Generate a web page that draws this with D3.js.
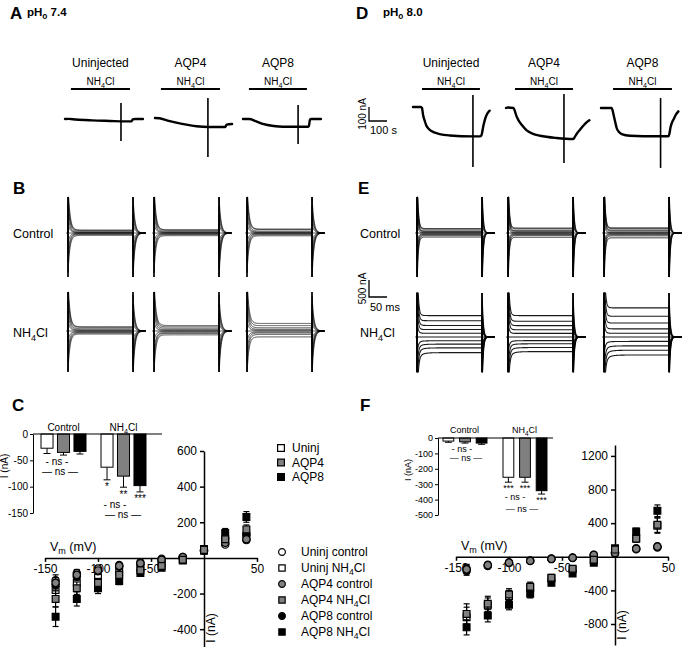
<!DOCTYPE html>
<html><head><meta charset="utf-8">
<script src="https://cdn.jsdelivr.net/npm/d3@7"></script>
<style>
body{margin:0;background:#fff;}
svg{font-family:"Liberation Sans",Arial,Helvetica,sans-serif;}
</style></head><body>
<svg id="fig" width="683" height="647"></svg>
<script>
// ================= DATA =================
const groupNames = ["Uninjected", "AQP4", "AQP8"];
const barSeries = ["Uninj", "AQP4", "AQP8"];
const barGroups = ["Control", "NH4Cl"];
const steps = [-140, -120, -100, -80, -60, -40, -20, 0, 20, 40];   // mV
const holdingPotential = -60;
const pulseDuration = 180;  // ms

// Panel A (pH 7.4) slow traces: [time s, current nA]
const traceA_uninj = [[0,0],[20,1],[60,-4],[150,-10],[250,-14],[330,-17],[370,-17],[376,-3],[390,0],[433,0]];
const traceA_aqp4  = [[0,7],[25,5],[70,-12],[150,-35],[230,-52],[300,-57],[390,-57],[398,-40],[428,-36]];
const traceA_aqp8  = [[0,0],[35,0],[70,-15],[110,-35],[170,-50],[222,-55],[360,-55],[366,-50],[372,-5],[380,0],[433,0]];
const spikeA = [[311,114,-157],[294,150,-271],[306,100,-179]];          // time, top, bottom
const nh4A   = [[33,361],[33,361],[33,355]];                            // NH4Cl application (s)

// Panel D (pH 8.0) slow traces
const traceD_uninj = [[0,7],[43,7],[50,0],[56,-50],[66,-95],[74,-125],[88,-150],[102,-165],[148,-186],[204,-196],[332,-203],[372,-203],[380,-195],[385,-170],[389,-140],[398,-90],[407,-55],[418,-30],[426,-19]];
const traceD_aqp4  = [[0,0],[10,4],[41,0],[59,-60],[73,-95],[87,-119],[115,-160],[150,-185],[189,-198],[281,-214],[374,-221],[383,-205],[395,-180],[411,-155],[439,-113],[463,-88]];
const traceD_aqp8  = [[0,0],[59,0],[65,-20],[72,-60],[80,-105],[87,-143],[100,-172],[115,-186],[161,-198],[309,-202],[374,-202],[380,-185],[386,-140],[394,-105],[402,-84],[415,-50],[430,-24]];
const spikeD = [[333,93,-421],[322,100,-393],[331,71,-428]];
const nh4D   = [[50,372],[50,372],[67,394]];

// Panel C IV (pH 7.4), nA, mean and SEM
const c_uninjCtrl = [-125,-85,-60,-40,-25,-5,0,40,75,100];
const c_uninjNH4  = [-180,-140,-110,-80,-55,-30,-5,40,95,125];
const c_aqp4Ctrl  = [-140,-95,-70,-45,-30,-10,5,40,85,105];
const c_aqp4NH4   = [-230,-170,-140,-95,-70,-45,-10,45,105,160];
const c_aqp8Ctrl  = [-150,-105,-75,-50,-35,-15,5,45,110,130];
const c_aqp8NH4   = [-330,-230,-170,-130,-85,-55,-15,50,140,230];
const c_errCtrl   = [30,20,15,10,8,5,3,5,10,15];
const c_errNH4    = [45,35,25,18,12,8,5,8,18,25];
const c_errAqp8NH4= [55,40,30,20,15,10,5,10,25,30];
// Panel C inset bars
const c_barCtrl = [-27,-35,-33], c_barCtrlErr = [10,5,5];
const c_barNH4  = [-63,-80,-98], c_barNH4Err  = [24,21,12];

// Panel F IV (pH 8.0)
const f_uninjCtrl = [-140,-95,-65,-45,-22,-10,20,40,90,110];
const f_uninjNH4  = [-720,-580,-470,-370,-260,-150,-40,80,220,370];
const f_aqp4Ctrl  = [-150,-100,-70,-48,-25,-12,22,45,95,120];
const f_aqp4NH4   = [-680,-560,-450,-357,-250,-143,-36,85,214,380];
const f_aqp8Ctrl  = [-170,-110,-75,-50,-28,-15,25,55,100,125];
const f_aqp8NH4   = [-840,-700,-571,-440,-310,-200,-70,100,300,547];
const f_errCtrl   = [50,30,20,12,8,5,5,10,15,20];
const f_errNH4    = [120,90,70,55,40,25,15,20,40,90];
const f_errAqp8NH4= [90,75,60,50,30,25,10,20,40,70];
// Panel F inset bars
const f_barCtrl = [-20,-25,-33], f_barCtrlErr = [8,8,8];
const f_barNH4  = [-255,-255,-342], f_barNH4Err = [32,32,22];

// ================= HELPERS =================
const svg = d3.select("#fig");
svg.append("rect").attr("width",683).attr("height",647).attr("fill","#fff");

function rich(parent, x, y, parts, size, anchor, weight) {
  const t = parent.append("text").attr("x", x).attr("y", y)
    .attr("font-size", size).attr("text-anchor", anchor || "start")
    .attr("font-weight", weight || "normal").attr("fill", "#000");
  let shift = 0;
  parts.forEach(p => {
    const target = p.sub ? size * 0.28 : 0;
    const ts = t.append("tspan").text(p.t).attr("dy", target - shift);
    if (p.sub) ts.attr("font-size", size * 0.72);
    shift = target;
  });
  return t;
}
const NH4 = [{t:"NH"},{t:"4",sub:true},{t:"Cl"}];
function plain(parent, x, y, s, size, anchor, weight) {
  return parent.append("text").attr("x", x).attr("y", y).attr("font-size", size)
    .attr("text-anchor", anchor || "start").attr("font-weight", weight || "normal").attr("fill","#000").text(s);
}

// ================= PANEL LETTERS =================
plain(svg, 10, 19, "A", 17, "start", "bold");
rich(svg, 27, 16, [{t:"pH"},{t:"o",sub:true},{t:" 7.4"}], 11.5, "start", "bold");
plain(svg, 356, 19, "D", 17, "start", "bold");
rich(svg, 383, 16, [{t:"pH"},{t:"o",sub:true},{t:" 8.0"}], 11.5, "start", "bold");
plain(svg, 13, 194, "B", 17, "start", "bold");
plain(svg, 358, 194, "E", 17, "start", "bold");
plain(svg, 12, 411, "C", 17, "start", "bold");
plain(svg, 360, 411, "F", 17, "start", "bold");

// ================= SLOW TRACES (A, D) =================
const pxPerSec = 0.18, pxPerNA = 0.14;
function drawSlow(x0s, baseY, traces, spikes, nh4) {
  traces.forEach((tr, i) => {
    const x0 = x0s[i];
    const t = d3.scaleLinear().domain([0, 100]).range([x0, x0 + 100 * pxPerSec]);
    const y = d3.scaleLinear().domain([0, -100]).range([baseY, baseY + 100 * pxPerNA]);
    const bar = nh4[i];
    const cx = (t(bar[0]) + t(bar[1])) / 2;
    svg.append("line").attr("x1", t(bar[0])).attr("x2", t(bar[1])).attr("y1", 89).attr("y2", 89)
      .attr("stroke", "#000").attr("stroke-width", 2);
    rich(svg, cx, 85, NH4, 10, "middle");
    plain(svg, cx, 67, groupNames[i], 12, "middle");
    const sp = spikes[i];
    svg.append("line").attr("x1", t(sp[0])).attr("x2", t(sp[0])).attr("y1", y(sp[1])).attr("y2", y(sp[2]))
      .attr("stroke", "#000").attr("stroke-width", 1.6);
    const line = d3.line().x(d => t(d[0])).y(d => y(d[1])).curve(d3.curveMonotoneX);
    svg.append("path").attr("d", line(tr)).attr("fill", "none").attr("stroke", "#000")
      .attr("stroke-width", 2.4).attr("stroke-linejoin", "round").attr("stroke-linecap","round");
  });
}
drawSlow([65, 155, 243], 119, [traceA_uninj, traceA_aqp4, traceA_aqp8], spikeA, nh4A);
drawSlow([413, 506, 601], 108, [traceD_uninj, traceD_aqp4, traceD_aqp8], spikeD, nh4D);

// scale bar D: 100 nA / 100 s
(function(){
  const x0 = 369, y0 = 121;
  const t = d3.scaleLinear().domain([0,100]).range([x0, x0 + 100*pxPerSec]);
  const y = d3.scaleLinear().domain([0,100]).range([y0, y0 - 100*pxPerNA]);
  svg.append("path").attr("d", `M${t(0)},${y(100)}V${y(0)}H${t(100)}`).attr("fill","none").attr("stroke","#000").attr("stroke-width",1.3);
  const g = svg.append("g").attr("transform", `translate(${x0-3},${(y(0)+y(100))/2}) rotate(-90)`);
  plain(g, 0, 0, "100 nA", 10, "middle");
  plain(svg, x0 + 1, 134, "100 s", 11, "start");
})();

// ================= CURRENT FAMILIES (B, E) =================
const msPx = 65 / pulseDuration;
const holdIdx = steps.indexOf(holdingPotential);
const transientGain = 20; // nA per mV at onset
function drawFamilies(x0s, base, top, bottom, kPx, tau, sets, lineW, relax) {
  sets.forEach((levels, f) => {
    const x = d3.scaleLinear().domain([0, pulseDuration]).range([x0s[f], x0s[f] + pulseDuration * msPx]);
    const y = d3.scaleLinear().domain([-(bottom - base) / kPx, (base - top) / kPx]).range([bottom, top]).clamp(true);
    const tS = d3.range(-3, 215.01, 0.4);
    const g = svg.append("g");
    levels.forEach((lv, i) => {
      const L = lv - levels[holdIdx];
      const dv = steps[i] - holdingPotential;
      const pts = tS.map(t => {
        let v;
        if (t < 0) v = 0;
        else if (t < pulseDuration) v = L + transientGain * dv * Math.exp(-t / tau) + (relax && L < 0 ? L * 0.35 * Math.exp(-t / 12) : 0);
        else { const u = t - pulseDuration; v = -transientGain * dv * Math.exp(-u / tau) + L * 0.25 * Math.exp(-u / 4); }
        return [t, v];
      });
      g.append("path").attr("d", d3.line().x(d => x(d[0])).y(d => y(d[1]))(pts))
        .attr("fill", "none").attr("stroke", "#000").attr("stroke-width", lineW).attr("stroke-opacity", 0.9);
    });
    [0, pulseDuration].forEach(ts => {
      g.append("line").attr("x1", x(ts)).attr("x2", x(ts)).attr("y1", y(1e6)).attr("y2", y(-1e6))
        .attr("stroke", "#000").attr("stroke-width", 1.7);
    });
  });
}
const bK = 12 / 500, eK = 17 / 500;
drawFamilies([68,154,247], 233, 197, 277, bK, 5, [c_uninjCtrl, c_aqp4Ctrl, c_aqp8Ctrl], 0.8, false);
drawFamilies([68,154,247], 331, 292, 372, bK, 5, [c_uninjNH4, c_aqp4NH4, c_aqp8NH4], 0.8, false);
drawFamilies([417,508,604], 233, 197, 277, eK, 3, [f_uninjCtrl, f_aqp4Ctrl, f_aqp8Ctrl], 1.0, false);
drawFamilies([417,508,604], 337, 293, 372, eK, 3, [f_uninjNH4, f_aqp4NH4, f_aqp8NH4], 1.1, true);
plain(svg, 13, 238, "Control", 12.5);
rich(svg, 13, 337, NH4, 12.5);
plain(svg, 360, 238, "Control", 12.5);
rich(svg, 360, 337, NH4, 12.5);
// scale bar E: 500 nA / 50 ms
(function(){
  const x0 = 369, y0 = 297;
  const t = d3.scaleLinear().domain([0,50]).range([x0, x0 + 50*msPx]);
  const y = d3.scaleLinear().domain([0,500]).range([y0, y0 - 500*eK]);
  svg.append("path").attr("d", `M${t(0)},${y(500)}V${y(0)}H${t(50)}`).attr("fill","none").attr("stroke","#000").attr("stroke-width",1.3);
  const g = svg.append("g").attr("transform", `translate(${x0-3},${(y(0)+y(500))/2}) rotate(-90)`);
  plain(g, 0, 0, "500 nA", 10, "middle");
  plain(svg, x0 + 1, 311, "50 ms", 11, "start");
})();

// ================= IV PLOTS (C, F) =================
const greyFill = "#808080";
function drawIV(cfg) {
  const x = d3.scaleLinear().domain([-150, 50]).range(cfg.xRange);
  const y = d3.scaleLinear().domain(cfg.yDomain).range(cfg.yRange);
  const g = svg.append("g");
  const xa = g.append("g").attr("transform", `translate(0,${y(0)})`)
    .call(d3.axisBottom(x).tickValues([-150,-100,-50,50]).tickSize(4).tickSizeOuter(0).tickFormat(d3.format("d")));
  const ya = g.append("g").attr("transform", `translate(${x(0)},0)`)
    .call(d3.axisLeft(y).tickValues(cfg.yTicks).tickSize(4).tickSizeOuter(0).tickFormat(d3.format("d")));
  [xa, ya].forEach(a => {
    a.selectAll("path,line").attr("stroke", "#000").attr("stroke-width", 1.5);
    a.selectAll("text").attr("font-size", 12).attr("font-family", "Liberation Sans, Arial, sans-serif").attr("fill","#000");
  });
  xa.selectAll("text").text(d => d < 0 ? "-" + Math.abs(d) : d);
  ya.selectAll("text").text(d => d < 0 ? "-" + Math.abs(d) : d);
  rich(g, cfg.xRange[0] + 5, y(0) - 7, [{t:"V"},{t:"m",sub:true},{t:" (mV)"}], 12.5);
  const yl = g.append("g").attr("transform", `translate(${x(0) + 11},${cfg.yLabelY}) rotate(-90)`);
  plain(yl, 0, 0, "I (nA)", 12, "middle");
  cfg.series.forEach(s => {
    const sg = g.append("g");
    steps.forEach((v, i) => {
      const cx = x(v), m = s.mean[i], e = s.err[i];
      sg.append("line").attr("x1", cx).attr("x2", cx).attr("y1", y(m - e)).attr("y2", y(m + e)).attr("stroke","#000").attr("stroke-width",1.2);
      [m - e, m + e].forEach(vv => sg.append("line").attr("x1", cx - 3).attr("x2", cx + 3).attr("y1", y(vv)).attr("y2", y(vv)).attr("stroke","#000").attr("stroke-width",1.2));
    });
    sg.selectAll("path.m").data(s.mean).join("path").attr("class","m")
      .attr("transform", (d, i) => `translate(${x(steps[i])},${y(d)})`)
      .attr("d", d3.symbol().type(s.shape === "circle" ? d3.symbolCircle : d3.symbolSquare).size(s.shape === "circle" ? 42 : 46))
      .attr("fill", s.fill).attr("stroke", "#000").attr("stroke-width", 1.2);
  });
}
function drawInset(cfg) {
  const y = d3.scaleLinear().domain(cfg.yDomain).range(cfg.yRange);
  const gx = d3.scaleBand().domain(barGroups).range(cfg.groupRange);
  const sx = d3.scaleBand().domain(barSeries).range(cfg.innerRange).paddingInner(cfg.pad);
  const g = svg.append("g");
  const ya = g.append("g").attr("transform", `translate(${cfg.axisX},0)`)
    .call(d3.axisLeft(y).tickValues(cfg.yTicks).tickSize(3).tickSizeOuter(0).tickPadding(2));
  ya.selectAll("path,line").attr("stroke","#000").attr("stroke-width",1);
  ya.selectAll("text").attr("font-size", cfg.font).attr("font-family","Liberation Sans, Arial, sans-serif").attr("fill","#000")
    .text(d => d < 0 ? "-" + Math.abs(d) : d);
  const fills = ["#fff", greyFill, "#000"];
  const data = [[cfg.ctrl, cfg.ctrlErr], [cfg.nh4, cfg.nh4Err]];
  barGroups.forEach((grp, gi) => {
    barSeries.forEach((s, si) => {
      const v = data[gi][0][si], e = data[gi][1][si];
      const bx = gx(grp) + sx(s), bw = sx.bandwidth(), cx = bx + bw / 2;
      g.append("line").attr("x1", cx).attr("x2", cx).attr("y1", y(v)).attr("y2", y(v - e)).attr("stroke","#000").attr("stroke-width",1);
      g.append("line").attr("x1", cx - 3.5).attr("x2", cx + 3.5).attr("y1", y(v - e)).attr("y2", y(v - e)).attr("stroke","#000").attr("stroke-width",1);
      g.append("rect").attr("x", bx).attr("y", y(0)).attr("width", bw).attr("height", y(v) - y(0))
        .attr("fill", fills[si]).attr("stroke", "#000").attr("stroke-width", 1);
      if (gi === 1) plain(g, cx, y(v - e) + cfg.starDy, cfg.stars[si], cfg.font, "middle");
    });
  });
  g.append("line").attr("x1", cfg.axisX).attr("x2", cfg.axisEnd).attr("y1", y(0)).attr("y2", y(0)).attr("stroke","#000").attr("stroke-width",1);
  plain(g, gx("Control") + gx.bandwidth() / 2, cfg.titleY, "Control", cfg.font, "middle");
  rich(g, gx("NH4Cl") + gx.bandwidth() / 2, cfg.titleY, NH4, cfg.font, "middle");
  cfg.ns.forEach(n => plain(g, n[0], n[1], n[2], cfg.font, "middle"));
  const yl = g.append("g").attr("transform", `translate(${cfg.ylabX},${cfg.ylabY}) rotate(-90)`);
  plain(yl, 0, 0, "I (nA)", cfg.font, "middle");
}

drawIV({
  xRange: [45, 257], yDomain: [-500, 600], yRange: [647, 451], yTicks: [-400,-200,200,400,600], yLabelY: 628,
  series: [
    {shape:"circle", fill:"#fff", mean:c_uninjCtrl, err:c_errCtrl},
    {shape:"square", fill:"#fff", mean:c_uninjNH4, err:c_errNH4},
    {shape:"circle", fill:"#000", mean:c_aqp8Ctrl, err:c_errCtrl},
    {shape:"square", fill:"#000", mean:c_aqp8NH4, err:c_errAqp8NH4},
    {shape:"circle", fill:greyFill, mean:c_aqp4Ctrl, err:c_errCtrl},
    {shape:"square", fill:greyFill, mean:c_aqp4NH4, err:c_errNH4}
  ]
});
drawIV({
  xRange: [456, 668], yDomain: [-1050, 1330], yRange: [645, 445], yTicks: [-800,-400,400,800,1200], yLabelY: 625,
  series: [
    {shape:"circle", fill:"#fff", mean:f_uninjCtrl, err:f_errCtrl},
    {shape:"square", fill:"#fff", mean:f_uninjNH4, err:f_errNH4},
    {shape:"circle", fill:"#000", mean:f_aqp8Ctrl, err:f_errCtrl},
    {shape:"square", fill:"#000", mean:f_aqp8NH4, err:f_errAqp8NH4},
    {shape:"circle", fill:greyFill, mean:f_aqp4Ctrl, err:f_errCtrl},
    {shape:"square", fill:greyFill, mean:f_aqp4NH4, err:f_errNH4}
  ]
});
drawInset({
  yDomain: [-150, 0], yRange: [513, 434], yTicks: [-150,-100,-50,0], axisX: 33, axisEnd: 162,
  groupRange: [33.5, 153.5], innerRange: [7.5, 52.5], pad: 0.27, font: 10,
  ctrl: c_barCtrl, ctrlErr: c_barCtrlErr, nh4: c_barNH4, nh4Err: c_barNH4Err,
  stars: ["*", "**", "***"], starDy: 10.5, titleY: 431,
  ns: [[57, 465, "- ns -"], [60, 475, "— ns —"], [115, 508, "- ns -"], [123, 518, "— ns —"]],
  ylabX: 8, ylabY: 466
});
drawInset({
  yDomain: [-500, 0], yRange: [515, 438], yTicks: [-500,-400,-300,-200,-100,0], axisX: 438, axisEnd: 553,
  groupRange: [434.5, 554.5], innerRange: [8.5, 52.5], pad: 0.35, font: 9,
  ctrl: f_barCtrl, ctrlErr: f_barCtrlErr, nh4: f_barNH4, nh4Err: f_barNH4Err,
  stars: ["***", "***", "***"], starDy: 9, titleY: 433,
  ns: [[515, 500, "- ns -"], [522, 512, "— ns —"], [462, 452, "- ns -"], [466, 461, "— ns —"]],
  ylabX: 411, ylabY: 470
});

// ================= LEGENDS =================
const legendTop = ["Uninj", "AQP4", "AQP8"];
const legendTopFill = ["#fff", greyFill, "#000"];
const legendBottom = [
  [{t:"Uninj control"}], [{t:"Uninj NH"},{t:"4",sub:true},{t:"Cl"}],
  [{t:"AQP4 control"}], [{t:"AQP4 NH"},{t:"4",sub:true},{t:"Cl"}],
  [{t:"AQP8 control"}], [{t:"AQP8 NH"},{t:"4",sub:true},{t:"Cl"}]
];
const legendBottomShape = ["circle","square","circle","square","circle","square"];
const legendBottomFill = ["#fff","#fff",greyFill,greyFill,"#000","#000"];
const lt = d3.scaleLinear().domain([0, 2]).range([448, 477]);
legendTop.forEach((s, i) => {
  svg.append("path").attr("transform", `translate(281,${lt(i)})`).attr("d", d3.symbol().type(d3.symbolSquare).size(46))
    .attr("fill", legendTopFill[i]).attr("stroke","#000").attr("stroke-width",1.2);
  plain(svg, 292, lt(i) + 4, s, 12);
});
const lb = d3.scaleLinear().domain([0, 5]).range([552, 632]);
legendBottom.forEach((p, i) => {
  svg.append("path").attr("transform", `translate(282,${lb(i)})`)
    .attr("d", d3.symbol().type(legendBottomShape[i] === "circle" ? d3.symbolCircle : d3.symbolSquare).size(legendBottomShape[i] === "circle" ? 36 : 40))
    .attr("fill", legendBottomFill[i]).attr("stroke","#000").attr("stroke-width",1.2);
  rich(svg, 301, lb(i) + 4, p, 12);
});
</script>
</body></html>
